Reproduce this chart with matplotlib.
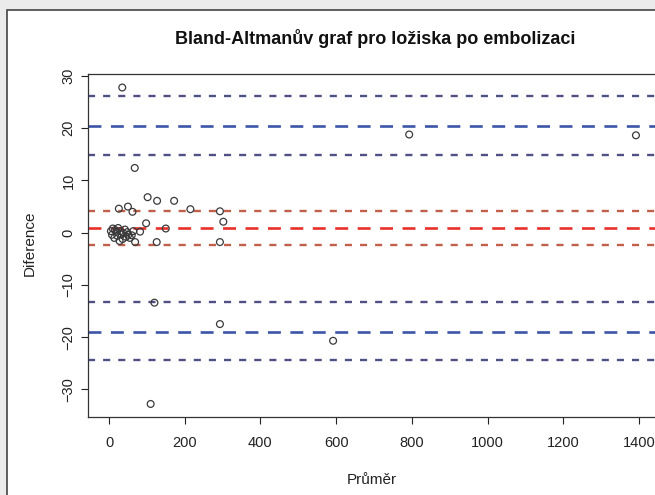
import matplotlib
matplotlib.use("Agg")
import matplotlib.pyplot as plt
from matplotlib.patches import Rectangle

plt.rcParams['font.family'] = ['Liberation Sans', 'DejaVu Sans']

# prumer (x) a diference (y)
prumer = [5, 8, 10, 14, 16, 20, 22, 24, 28, 30, 33, 36, 38, 42, 45, 48, 51, 55, 60, 64, 69,
          26, 50, 62, 35, 68, 82, 98, 102, 110, 120, 126, 127, 150, 172, 215,
          293, 302, 293, 293, 592, 793, 1392]
diference = [0.3, -0.4, 0.8, -1.0, 0.5, 0.2, -0.6, 0.9, -1.6, 0.3, -0.3, -1.2, -0.1, 0.6, -0.8, 0.1, -0.4, -1.0, -0.5, 0.3, -1.8,
             4.6, 5.0, 4.0, 27.8, 12.4, 0.2, 1.8, 6.8, -32.8, -13.4, -1.8, 6.1, 0.8, 6.1, 4.5,
             4.1, 2.1, -1.8, -17.5, -20.7, 18.8, 18.65]

bias = 0.85
bias_ci = [4.15, -2.4]
loa_upper = 20.5
loa_upper_ci = [26.2, 14.8]
loa_lower = -19.0
loa_lower_ci = [-13.2, -24.3]

fig = plt.figure(figsize=(6.55, 4.95), dpi=100)
fig.patch.set_facecolor('#ebebeb')
panel = Rectangle((7/655, -0.1), 1.2, 1.1 - 10/495, transform=fig.transFigure,
                  facecolor='white', edgecolor='#444444', lw=1.2, zorder=-10)
fig.add_artist(panel)

ax = fig.add_axes([88/655, 1 - 416.7/495, (656 - 88)/655, (416.7 - 74)/495])
ax.set_zorder(5)
ax.set_facecolor('white')

ax.scatter(prumer, diference, s=24, facecolors='none', edgecolors='#3a3a3a', linewidths=0.9, zorder=3)

thick = (0, (4.9, 3.6))
thin = (0, (3, 3.4))
ax.axhline(bias, color='#e8302a', lw=1.9, ls=thick)
for v in bias_ci:
    ax.axhline(v, color='#c0604a', lw=1.7, ls=thin)
ax.axhline(loa_upper, color='#3d55a8', lw=1.9, ls=thick)
ax.axhline(loa_lower, color='#3d55a8', lw=1.9, ls=thick)
for v in loa_upper_ci + loa_lower_ci:
    ax.axhline(v, color='#505085', lw=1.7, ls=thin)

ax.set_xlim(-55.5, 1445)
ax.set_ylim(-35.24, 30.39)
ax.set_xticks(range(0, 1401, 200))
ax.set_yticks(range(-30, 31, 10))
ax.tick_params(axis='x', length=5, width=0.8, pad=9, labelsize=10.5, colors='#222222')
ax.tick_params(axis='y', length=5, width=0.8, pad=4, labelsize=10.5, colors='#222222')
for lab in ax.get_yticklabels():
    lab.set_rotation(90)
    lab.set_va('center')
for s in ax.spines.values():
    s.set_color('#333333')
    s.set_linewidth(0.9)

fig.text(375/655, 1 - 39/495, 'Bland-Altmanův graf pro ložiska po embolizaci',
         ha='center', va='center', fontsize=13, fontweight='bold', color='#111111')
fig.text(372/655, 1 - 480/495, 'Průměr', ha='center', va='center', fontsize=11, color='#222222')
fig.text(30/655, 1 - 243/495, 'Diference', ha='center', va='center', rotation=90, fontsize=11, color='#222222')

fig.savefig('out.png', dpi=100, facecolor=fig.get_facecolor())
